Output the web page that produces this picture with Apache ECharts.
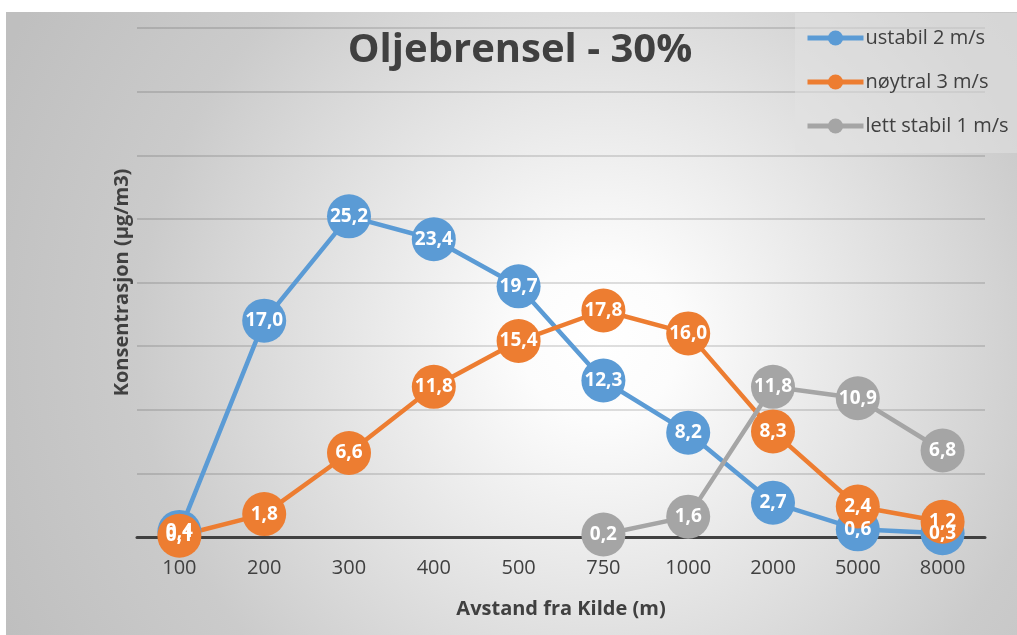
<!DOCTYPE html>
<html>
<head>
<meta charset="utf-8">
<script src="https://cdn.jsdelivr.net/npm/echarts@6/dist/echarts.min.js"></script>
<style>
html,body{margin:0;padding:0;background:#fff;}
#c{width:1017px;height:635px;}
</style>
</head>
<body>
<div id="c"></div>
<script>
const categories = ['100','200','300','400','500','750','1000','2000','5000','8000'];
const ustabil = [0.4, 17.0, 25.2, 23.4, 19.7, 12.3, 8.2, 2.7, 0.6, 0.3];
const noytral = [0.1, 1.8, 6.6, 11.8, 15.4, 17.8, 16.0, 8.3, 2.4, 1.2];
const lettStabil = [null, null, null, null, null, 0.2, 1.6, 11.8, 10.9, 6.8];
const seriesNames = ['ustabil 2 m/s', 'nøytral 3 m/s', 'lett stabil 1 m/s'];
const colors = ['#5B9BD5', '#ED7D31', '#A5A5A5'];

const FONT = '"Open Sans", "Noto Sans", sans-serif';
const chart = echarts.init(document.getElementById('c'), null, {renderer: 'canvas'});

function mk(name, data, color) {
  return {
    name: name,
    type: 'line',
    data: data,
    symbol: 'circle',
    symbolSize: 44,
    connectNulls: false,
    lineStyle: {color: color, width: 4.5},
    itemStyle: {color: color},
    label: {
      show: true,
      position: 'inside',
      color: '#ffffff',
      fontFamily: FONT,
      fontWeight: 'bold',
      fontSize: 19,
      formatter: p => (p.value == null ? '' : Number(p.value).toFixed(1).replace('.', ','))
    },
    emphasis: {disabled: true},
    animation: false
  };
}

chart.setOption({
  animation: false,
  backgroundColor: {
    type: 'radial', x: 600, y: 340, r: 660, global: true,
    colorStops: [
      {offset: 0, color: '#ffffff'},
      {offset: 0.12, color: '#fcfcfc'},
      {offset: 0.7, color: '#cbcbcb'},
      {offset: 1, color: '#bfbfbf'}
    ]
  },
  graphic: [
    {type: 'rect', left: 0, top: 0, shape: {width: 1017, height: 12}, style: {fill: '#ffffff'}, z: 100, silent: true},
    {type: 'rect', left: 0, top: 0, shape: {width: 6, height: 635}, style: {fill: '#ffffff'}, z: 100, silent: true}
  ],
  title: {
    text: 'Oljebrensel - 30%',
    left: 515, top: 26, textAlign: 'center',
    textStyle: {fontFamily: FONT, fontWeight: 'bold', fontSize: 40, color: '#404040'}
  },
  legend: {
    orient: 'vertical',
    left: 795, top: 13,
    padding: [15, 40, 17, 10],
    itemGap: 24,
    itemWidth: 56, itemHeight: 19,
    backgroundColor: 'rgba(225,225,225,0.55)',
    lineStyle: {width: 5},
    textStyle: {fontFamily: FONT, fontSize: 20, color: '#404040', padding: [0, 0, 0, -3]},
    data: seriesNames
  },
  grid: {left: 137, right: 32, top: 28, bottom: 98, containLabel: false},
  xAxis: {
    type: 'category',
    data: categories,
    boundaryGap: true,
    axisLine: {lineStyle: {color: '#404040', width: 3}},
    axisTick: {show: false},
    axisLabel: {fontFamily: FONT, fontSize: 20, color: '#404040', margin: 21},
    name: 'Avstand fra Kilde (m)',
    nameLocation: 'middle',
    nameGap: 62,
    nameTextStyle: {fontFamily: FONT, fontWeight: 'bold', fontSize: 20, color: '#404040'}
  },
  yAxis: {
    type: 'value',
    min: 0, max: 40, interval: 5,
    axisLine: {show: false},
    axisTick: {show: false},
    axisLabel: {show: false},
    splitLine: {lineStyle: {color: 'rgba(0,0,0,0.17)', width: 1.5}},
    name: 'Konsentrasjon (µg/m3)',
    nameLocation: 'middle',
    nameGap: 5,
    nameTextStyle: {fontFamily: FONT, fontWeight: 'bold', fontSize: 20, color: '#404040'}
  },
  series: [
    mk(seriesNames[0], ustabil, colors[0]),
    mk(seriesNames[1], noytral, colors[1]),
    mk(seriesNames[2], lettStabil, colors[2])
  ]
});
</script>
</body>
</html>
